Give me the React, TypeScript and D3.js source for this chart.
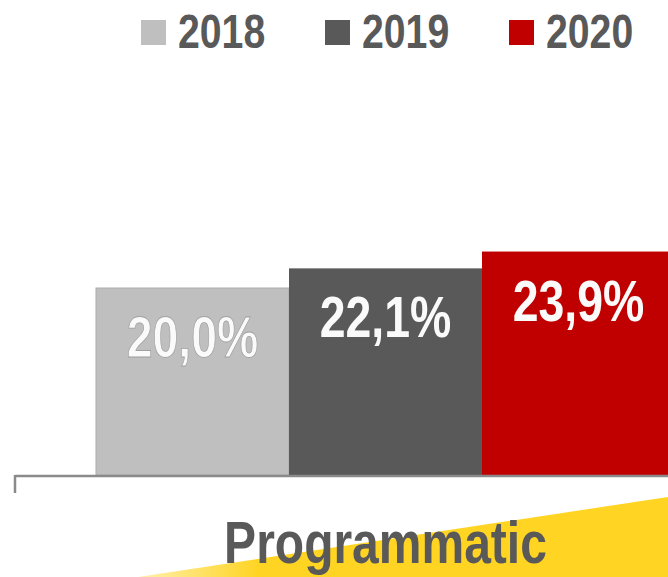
import React from "react";
import * as d3 from "d3";

const categories = ["Programmatic"];
const seriesNames = ["2018", "2019", "2020"];
const seriesValues = [20.0, 22.1, 23.9];
const valueLabels = ["20,0%", "22,1%", "23,9%"];
const seriesColors = ["#BFBFBF", "#595959", "#C00000"];

const W = 668;
const H = 577;
const FONT = "'Liberation Sans', Arial, sans-serif";
const SQUEEZE = 0.8;

export default function App() {
  const y = d3.scaleLinear().domain([0, 25]).range([475, 241.25]);
  const x0 = d3
    .scaleBand<string>()
    .domain(categories)
    .range([15, 756])
    .paddingInner(0.2186)
    .paddingOuter(0.1093);
  const x1 = d3
    .scaleBand<string>()
    .domain(seriesNames)
    .range([0, x0.bandwidth()])
    .padding(0);

  return (
    <svg
      width={W}
      height={H}
      style={{ position: "absolute", left: 0, top: 0, display: "block", background: "#fff" }}
    >
      <defs>
        <linearGradient id="yel" x1="135" y1="0" x2="260" y2="0" gradientUnits="userSpaceOnUse">
          <stop offset="0" stopColor="#FFF1B0" />
          <stop offset="1" stopColor="#FFD422" />
        </linearGradient>
        <clipPath id="clip">
          <rect x={0} y={0} width={W} height={H} />
        </clipPath>
      </defs>
      <g clipPath="url(#clip)">
        <polygon points={`138,${H} ${W},497 ${W},${H}`} fill="url(#yel)" />

        {/* legend */}
        {seriesNames.map((s, i) => {
          const lx = 141 + i * 184;
          return (
            <g key={s}>
              <rect x={lx} y={20} width={25} height={25} fill={seriesColors[i]} />
              <g transform={`translate(${lx + 37},48) scale(${SQUEEZE},1)`}>
                <text fontFamily={FONT} fontWeight="bold" fontSize={49} fill="#595959">
                  {s}
                </text>
              </g>
            </g>
          );
        })}

        {/* bars */}
        {categories.map((c) => (
          <g key={c} transform={`translate(${x0(c)},0)`}>
            {seriesNames.map((s, i) => {
              const bx = x1(s)!;
              const top = y(seriesValues[i]);
              return (
                <g key={s}>
                  <rect
                    x={bx}
                    y={top}
                    width={x1.bandwidth()}
                    height={y(0) - top}
                    fill={seriesColors[i]}
                    stroke={i === 0 ? "#AEAEAE" : "none"}
                    strokeWidth={1}
                  />
                  <g transform={`translate(${bx + x1.bandwidth() / 2},${top + 69}) scale(${SQUEEZE},1)`}>
                    <text
                      textAnchor="middle"
                      fontFamily={FONT}
                      fontWeight="bold"
                      fontSize={58}
                      fill="#FAFAFA"
                      stroke={i === 0 ? "#A0A0A0" : "none"}
                      strokeWidth={0.8}
                    >
                      {valueLabels[i]}
                    </text>
                  </g>
                </g>
              );
            })}
            <g transform={`translate(${x0.bandwidth() / 2},563) scale(${SQUEEZE},1)`}>
              <text
                textAnchor="middle"
                fontFamily={FONT}
                fontWeight="bold"
                fontSize={60}
                fill="#595959"
              >
                {c}
              </text>
            </g>
          </g>
        ))}

        {/* axis */}
        <line x1={15} x2={W} y1={476} y2={476} stroke="#8A8A8A" strokeWidth={2.5} />
        <line x1={15} x2={15} y1={475} y2={493} stroke="#8A8A8A" strokeWidth={2.5} />
      </g>
    </svg>
  );
}
